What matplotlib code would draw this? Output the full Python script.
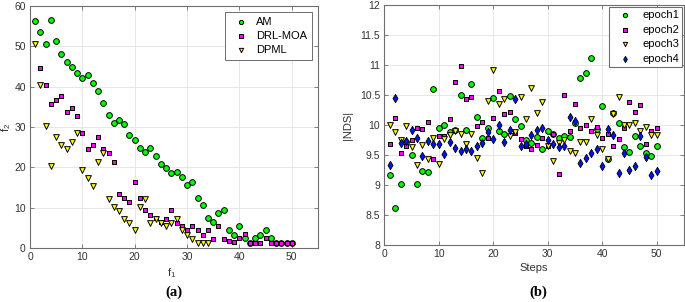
import matplotlib

matplotlib.use("Agg")
import matplotlib.pyplot as plt
import numpy as np

plt.rcParams["font.family"] = ["Liberation Sans", "DejaVu Sans"]
plt.rcParams["mathtext.fontset"] = "custom"
plt.rcParams["mathtext.rm"] = "Liberation Sans"

# (a) objective space, f1 on x
am_f1 = list(range(1, 51))
am_f2 = [56.2, 53.5, 50.6, 56.5, 51.3, 48.1, 46.0, 44.9, 43.4, 42.0,
         42.9, 41.0, 38.9, 36.0, 32.9, 30.9, 31.8, 30.8, 27.9, 26.7,
         24.7, 23.8, 24.7, 22.8, 20.8, 19.9, 18.6, 18.8, 17.6, 15.6,
         16.4, 12.5, 10.6, 7.4, 6.5, 8.6, 9.5, 4.5, 3.4, 5.5,
         2.5, 1.4, 2.5, 3.4, 4.5, 2.5, 1.4, 1.4, 1.4, 1.4]
drl_f1 = list(range(2, 51))
drl_f2 = [44.5, 40.4, 35.6, 36.6, 37.6, 33.6, 34.6, 32.7, 28.5,
          24.5, 25.6, 27.5, 24.5, 23.5, 21.3, 13.4, 12.4, 11.4, 16.4,
          12.4, 9.4, 8.3, 7.4, 6.4, 7.3, 9.5, 6.3, 5.4, 4.5,
          5.4, 4.5, 3.4, 4.6, 2.4, 5.4, 2.4, 1.7, 1.5, 2.5,
          3.5, 1.4, 1.4, 1.4, 2.5, 1.4, 1.4, 1.4, 1.4, 1.4]
dpml_f1 = list(range(1, 35))
dpml_f2 = [50.5, 40.5, 30.3, 20.4, 27.5, 25.6, 24.5, 26.4, 28.5, 19.4,
           17.3, 15.3, 21.4, 23.5, 12.3, 10.3, 9.3, 7.3, 6.3, 4.4,
           10.3, 12.3, 6.3, 7.3, 6.3, 5.4, 6.3, 7.3, 4.4, 3.4,
           2.4, 1.4, 1.4, 1.4]

# (b) |NDS| per step
steps = list(range(1, 51))
epoch1 = [9.17, 8.62, 9.02, 9.72, 9.50, 9.02, 9.24, 9.22, 10.60, 9.95,
          10.00, 9.88, 9.92, 10.50, 9.92, 10.68, 10.13, 9.78, 9.95, 10.45,
          9.90, 9.85, 10.49, 10.10, 9.98, 9.75, 9.70, 9.80, 9.61, 9.90,
          9.86, 9.79, 9.82, 9.81, 10.03, 10.79, 10.87, 11.12, 9.93, 10.32,
          9.43, 10.20, 10.04, 9.63, 9.56, 9.82, 9.66, 9.53, 9.49, 9.66]
epoch2 = [9.69, 10.12, 9.54, 9.65, 9.75, 9.95, 9.93, 10.06, 9.44, 9.82,
          9.82, 10.10, 10.72, 10.99, 10.43, 10.47, 9.98, 10.05, 9.79, 10.12,
          10.57, 10.19, 10.22, 9.87, 9.77, 9.66, 9.61, 9.67, 9.78, 9.65,
          9.86, 9.19, 10.50, 9.90, 10.35, 9.95, 10.01, 9.90, 9.97, 9.79,
          9.85, 9.65, 9.77, 9.96, 10.38, 10.22, 10.34, 9.69, 9.91, 9.96]
epoch3 = [10.00, 9.88, 9.76, 9.99, 9.63, 9.34, 9.67, 9.43, 9.78, 9.36,
          9.77, 9.84, 9.90, 9.85, 9.69, 9.85, 9.46, 9.21, 10.40, 10.91,
          10.35, 10.44, 9.82, 9.88, 10.46, 10.10, 10.62, 10.20, 10.39, 9.65,
          9.41, 9.70, 9.75, 9.57, 9.53, 9.72, 9.72, 10.11, 9.83, 9.60,
          9.43, 10.18, 10.47, 10.01, 10.01, 10.03, 9.90, 9.97, 9.84, 9.84]
epoch4 = [9.33, 10.45, 9.71, 9.73, 9.92, 9.79, 9.48, 9.73, 9.68, 9.68,
          9.52, 9.72, 9.62, 9.57, 9.61, 9.57, 9.66, 9.71, 9.88, 9.77,
          10.00, 9.72, 9.92, 10.43, 9.65, 9.68, 9.84, 9.92, 9.95, 9.75,
          9.69, 9.63, 9.66, 10.13, 10.07, 9.37, 9.46, 9.53, 9.60, 9.32,
          9.93, 9.84, 9.21, 9.53, 9.25, 9.32, 9.82, 9.47, 9.17, 9.23]

GREEN = "#00ff00"
MAGENTA = "#ff00ff"
YELLOW = "#ffff00"
BLUE = "#0010ff"
AXC = "#6e6e6e"
TXT = "#333333"


def style_axes(ax):
    ax.set_axisbelow(True)
    ax.grid(True, color="#e3e3e3", lw=0.6)
    for s in ax.spines.values():
        s.set_color(AXC)
        s.set_linewidth(0.8)
    ax.tick_params(direction="in", length=3, width=0.6, colors=AXC,
                   labelsize=7.5, top=True, right=True, pad=3)
    for lab in ax.get_xticklabels() + ax.get_yticklabels():
        lab.set_color(TXT)


fig = plt.figure(figsize=(6.85, 3.02), dpi=100)
ax1 = fig.add_axes([0.0438, 0.178, 0.4204, 0.803])
ax2 = fig.add_axes([0.561, 0.1877, 0.4375, 0.796])

circ = dict(marker="o", s=17, edgecolors="black", linewidths=0.7, zorder=3)
sq = dict(marker="s", s=11, edgecolors="black", linewidths=0.7, zorder=3)
tri = dict(marker="v", s=17, edgecolors="black", linewidths=0.7, zorder=3)
dia = dict(marker="d", s=18, edgecolors="black", linewidths=0.6, zorder=3)

ax1.scatter(am_f1, am_f2, c=GREEN, label="AM", **circ)
ax1.scatter(drl_f1, drl_f2, c=MAGENTA, label="DRL-MOA", **sq)
ax1.scatter(dpml_f1, dpml_f2, c=YELLOW, label="DPML", **tri)
ax1.set_xlim(0, 55)
ax1.set_ylim(0, 60)
ax1.set_xticks(np.arange(0, 51, 10))
ax1.set_yticks(np.arange(0, 61, 10))
style_axes(ax1)
ax1.set_xlabel("f$_1$", fontsize=8, color=TXT)
ax1.set_ylabel("f$_2$", fontsize=8, color=TXT)
ax1.xaxis.set_label_coords(0.493, -0.075)
ax1.yaxis.set_label_coords(-0.058, 0.5)
leg1 = ax1.legend(loc="upper right", fontsize=8, markerscale=0.75, handlelength=2.0,
                  handletextpad=0.3, borderpad=0.45, labelspacing=0.35, fancybox=False,
                  framealpha=1, edgecolor=AXC, borderaxespad=0,
                  bbox_to_anchor=(0.979, 0.974))
leg1.get_frame().set_linewidth(0.7)

ax2.scatter(steps, epoch1, c=GREEN, label="epoch1", **circ)
ax2.scatter(steps, epoch2, c=MAGENTA, label="epoch2", **sq)
ax2.scatter(steps, epoch3, c=YELLOW, label="epoch3", **tri)
ax2.scatter(steps, epoch4, c=BLUE, label="epoch4", **dia)
ax2.set_xlim(0, 55)
ax2.set_ylim(8, 12)
ax2.set_xticks(np.arange(0, 51, 10))
ax2.set_yticks(np.arange(8, 12.01, 0.5))
ax2.set_yticklabels(["8", "8.5", "9", "9.5", "10", "10.5", "11", "11.5", "12"])
style_axes(ax2)
ax2.set_xlabel("Steps", fontsize=8, color=TXT)
ax2.set_ylabel("|NDS|", fontsize=8, color=TXT)
ax2.xaxis.set_label_coords(0.5, -0.073)
ax2.yaxis.set_label_coords(-0.104, 0.5)
leg2 = ax2.legend(loc="upper right", fontsize=8, markerscale=0.75, handlelength=2.3,
                  handletextpad=0.4, borderpad=0.3, labelspacing=0.4, fancybox=False,
                  framealpha=1, edgecolor=AXC, borderaxespad=0,
                  bbox_to_anchor=(0.995, 0.992))
leg2.get_frame().set_linewidth(0.8)

fig.text(0.254, 0.02, "(a)", fontsize=10.5, fontweight="bold", family="Liberation Serif",
         ha="center")
fig.text(0.786, 0.02, "(b)", fontsize=10.5, fontweight="bold", family="Liberation Serif",
         ha="center")

fig.savefig("out.png", dpi=100)
